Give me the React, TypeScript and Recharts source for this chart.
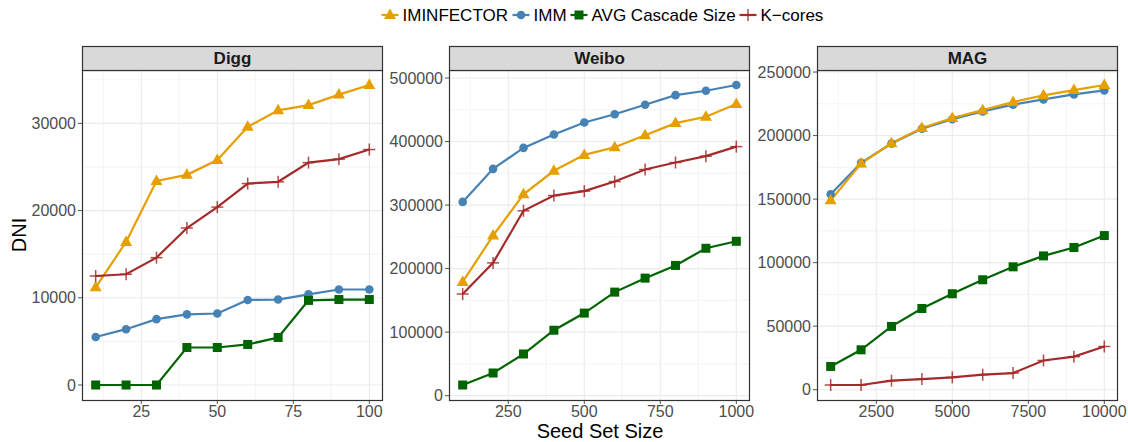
import React from 'react';
import { LineChart, Line, XAxis, YAxis, CartesianGrid } from 'recharts';

const seriesNames = ['IMINFECTOR', 'IMM', 'AVG Cascade Size', 'K−cores'];
const panelTitles = ['Digg', 'Weibo', 'MAG'];

const diggX = [10, 20, 30, 40, 50, 60, 70, 80, 90, 100];
const diggIminfector = [11200, 16400, 23400, 24100, 25800, 29600, 31500, 32100, 33300, 34400];
const diggImm = [5500, 6400, 7550, 8100, 8200, 9750, 9800, 10400, 10950, 10950];
const diggAvg = [0, 0, 0, 4300, 4300, 4650, 5450, 9700, 9800, 9800];
const diggKcores = [12500, 12700, 14600, 18000, 20400, 23100, 23300, 25500, 25900, 27000];

const weiboX = [100, 200, 300, 400, 500, 600, 700, 800, 900, 1000];
const weiboIminfector = [179000, 252000, 317000, 354000, 379000, 391000, 410000, 429000, 439000, 459000];
const weiboImm = [305000, 357000, 390000, 411000, 430000, 443000, 458000, 473000, 480000, 489000];
const weiboAvg = [16800, 35700, 65600, 103000, 130000, 163000, 185000, 205000, 232000, 243000];
const weiboKcores = [160000, 209000, 291000, 315000, 322000, 337000, 356000, 367000, 377000, 392000];

const magX = [1000, 2000, 3000, 4000, 5000, 6000, 7000, 8000, 9000, 10000];
const magIminfector = [149000, 178000, 194000, 206000, 213800, 220000, 226400, 231700, 235800, 239800];
const magImm = [153800, 178500, 193700, 205400, 212800, 219000, 224300, 228500, 232400, 235600];
const magAvg = [18300, 31400, 49800, 63900, 75500, 86500, 96700, 105300, 111900, 121300];
const magKcores = [3700, 3700, 7100, 8400, 9700, 11800, 13100, 23000, 26000, 34000];

const diggXTicks = [25, 50, 75, 100];
const diggXMinor = [12.5, 37.5, 62.5, 87.5];
const diggYTicks = [0, 10000, 20000, 30000];
const diggYMinor = [5000, 15000, 25000, 35000];
const weiboXTicks = [250, 500, 750, 1000];
const weiboXMinor = [125, 375, 625, 875];
const weiboYTicks = [0, 100000, 200000, 300000, 400000, 500000];
const weiboYMinor = [50000, 150000, 250000, 350000, 450000];
const magXTicks = [2500, 5000, 7500, 10000];
const magXMinor = [1250, 3750, 6250, 8750];
const magYTicks = [0, 50000, 100000, 150000, 200000, 250000];
const magYMinor = [25000, 75000, 125000, 175000, 225000];

const COLORS = ['#E69F00', '#4682B4', '#006400', '#A52A2A'];
const FONT = '"Liberation Sans", Arial, Helvetica, sans-serif';

const PW = 301; // panel width
const YW = 75; // y axis width
const RM = 30; // extra right room for tick labels
const PTOP = 70;
const PBOT = 400;
const STRIP_TOP = 46;

function build(x: number[], a: number[], b: number[], c: number[], d: number[]) {
  return x.map((v, i) => ({ x: v, iminfector: a[i], imm: b[i], avg: c[i], kcores: d[i] }));
}

function expand(vals: number[]): [number, number] {
  const mn = Math.min(...vals);
  const mx = Math.max(...vals);
  const r = mx - mn;
  return [mn - r * 0.05, mx + r * 0.05];
}

function Marker({ kind, cx, cy }: { kind: number; cx: number; cy: number }) {
  const col = COLORS[kind];
  if (kind === 0) {
    return <polygon points={`${cx},${cy - 6.5} ${cx - 6},${cy + 4} ${cx + 6},${cy + 4}`} fill={col} />;
  }
  if (kind === 1) return <circle cx={cx} cy={cy} r={4.3} fill={col} />;
  if (kind === 2) return <rect x={cx - 4.5} y={cy - 4.5} width={9} height={9} fill={col} />;
  return (
    <g stroke={col} strokeWidth={1.5} strokeOpacity={0.85}>
      <line x1={cx - 6} y1={cy} x2={cx + 6} y2={cy} />
      <line x1={cx} y1={cy - 6} x2={cx} y2={cy + 6} />
    </g>
  );
}

function dotFor(kind: number) {
  return (props: any) => {
    const { cx, cy, index } = props;
    return (
      <g key={`m-${kind}-${index}`}>
        <Marker kind={kind} cx={cx} cy={cy} />
      </g>
    );
  };
}

type PanelProps = {
  left: number;
  data: any[];
  xVals: number[];
  yVals: number[];
  xTicks: number[];
  xMinor: number[];
  yTicks: number[];
  yMinor: number[];
};

function Panel({ left, data, xVals, yVals, xTicks, xMinor, yTicks, yMinor }: PanelProps) {
  const xd = expand(xVals);
  const yd = expand(yVals);
  const order: [string, number][] = [
    ['imm', 1],
    ['iminfector', 0],
    ['avg', 2],
    ['kcores', 3],
  ];
  return (
    <div style={{ position: 'absolute', left: left - YW, top: 0 }}>
      <LineChart width={YW + PW + RM} height={442} data={data} margin={{ top: PTOP, right: RM, bottom: 12, left: 0 }}>
        <CartesianGrid horizontalValues={yMinor} verticalValues={xMinor} stroke="#EFEFEF" strokeWidth={0.7} />
        <CartesianGrid horizontalValues={yTicks} verticalValues={xTicks} stroke="#EBEBEB" strokeWidth={1.1} />
        <XAxis
          dataKey="x"
          type="number"
          domain={xd}
          ticks={xTicks}
          allowDataOverflow
          height={30}
          axisLine={false}
          tickLine={{ stroke: '#555', strokeWidth: 1 }}
          tickSize={4}
          tickMargin={2}
          tick={{ fill: '#4D4D4D', fontSize: 16, fontFamily: FONT }}
          interval={0}
        />
        <YAxis
          type="number"
          domain={yd}
          ticks={yTicks}
          allowDataOverflow
          width={YW}
          axisLine={false}
          tickLine={{ stroke: '#555', strokeWidth: 1 }}
          tickSize={4}
          tickMargin={2}
          tick={{ fill: '#4D4D4D', fontSize: 16, fontFamily: FONT }}
          interval={0}
        />
        {order.map(([key, kind]) => (
          <Line
            key={key}
            dataKey={key}
            stroke={COLORS[kind]}
            strokeWidth={2.2}
            dot={dotFor(kind)}
            activeDot={false}
            isAnimationActive={false}
            type="linear"
          />
        ))}
      </LineChart>
    </div>
  );
}

const panelLefts = [82, 449, 817];

function LegendKey({ kind, x, y }: { kind: number; x: number; y: number }) {
  return (
    <g>
      <line x1={x - 8.5} y1={y} x2={x + 8.5} y2={y} stroke={COLORS[kind]} strokeWidth={2.2} />
      <Marker kind={kind} cx={x} cy={y} />
    </g>
  );
}

export default function App() {
  const digg = build(diggX, diggIminfector, diggImm, diggAvg, diggKcores);
  const weibo = build(weiboX, weiboIminfector, weiboImm, weiboAvg, weiboKcores);
  const mag = build(magX, magIminfector, magImm, magAvg, magKcores);

  const legendKeyX = [390, 521, 579, 748];
  const legendY = 15;

  return (
    <div style={{ position: 'absolute', left: 0, top: 0, width: 1128, height: 442, background: '#fff', fontFamily: FONT }}>
      <Panel
        left={panelLefts[0]}
        data={digg}
        xVals={diggX}
        yVals={[...diggIminfector, ...diggImm, ...diggAvg, ...diggKcores]}
        xTicks={diggXTicks}
        xMinor={diggXMinor}
        yTicks={diggYTicks}
        yMinor={diggYMinor}
      />
      <Panel
        left={panelLefts[1]}
        data={weibo}
        xVals={weiboX}
        yVals={[...weiboIminfector, ...weiboImm, ...weiboAvg, ...weiboKcores]}
        xTicks={weiboXTicks}
        xMinor={weiboXMinor}
        yTicks={weiboYTicks}
        yMinor={weiboYMinor}
      />
      <Panel
        left={panelLefts[2]}
        data={mag}
        xVals={magX}
        yVals={[...magIminfector, ...magImm, ...magAvg, ...magKcores]}
        xTicks={magXTicks}
        xMinor={magXMinor}
        yTicks={magYTicks}
        yMinor={magYMinor}
      />
      <svg width={1128} height={442} style={{ position: 'absolute', left: 0, top: 0, pointerEvents: 'none' }}>
        {panelLefts.map((l, i) => (
          <g key={i}>
            <rect x={l + 0.5} y={PTOP + 0.5} width={PW - 1} height={PBOT - PTOP} fill="none" stroke="#333" strokeWidth={1.2} />
            <rect x={l + 0.5} y={STRIP_TOP + 0.5} width={PW - 1} height={PTOP - STRIP_TOP} fill="#D9D9D9" stroke="#333" strokeWidth={1.2} />
            <text x={l + PW / 2} y={PTOP - 6} textAnchor="middle" fontSize={17} fontWeight="bold" fill="#1A1A1A" fontFamily={FONT}>
              {panelTitles[i]}
            </text>
          </g>
        ))}
        {seriesNames.map((name, i) => (
          <g key={name}>
            <LegendKey kind={i} x={legendKeyX[i]} y={legendY} />
            <text x={legendKeyX[i] + 12.5} y={21} fontSize={17} fill="#000" fontFamily={FONT}>
              {name}
            </text>
          </g>
        ))}
        <text x={600} y={438} textAnchor="middle" fontSize={20} fill="#000" fontFamily={FONT}>
          Seed Set Size
        </text>
        <text x={0} y={0} transform="translate(25.5,235) rotate(-90)" textAnchor="middle" fontSize={20} fill="#000" fontFamily={FONT}>
          DNI
        </text>
      </svg>
    </div>
  );
}
